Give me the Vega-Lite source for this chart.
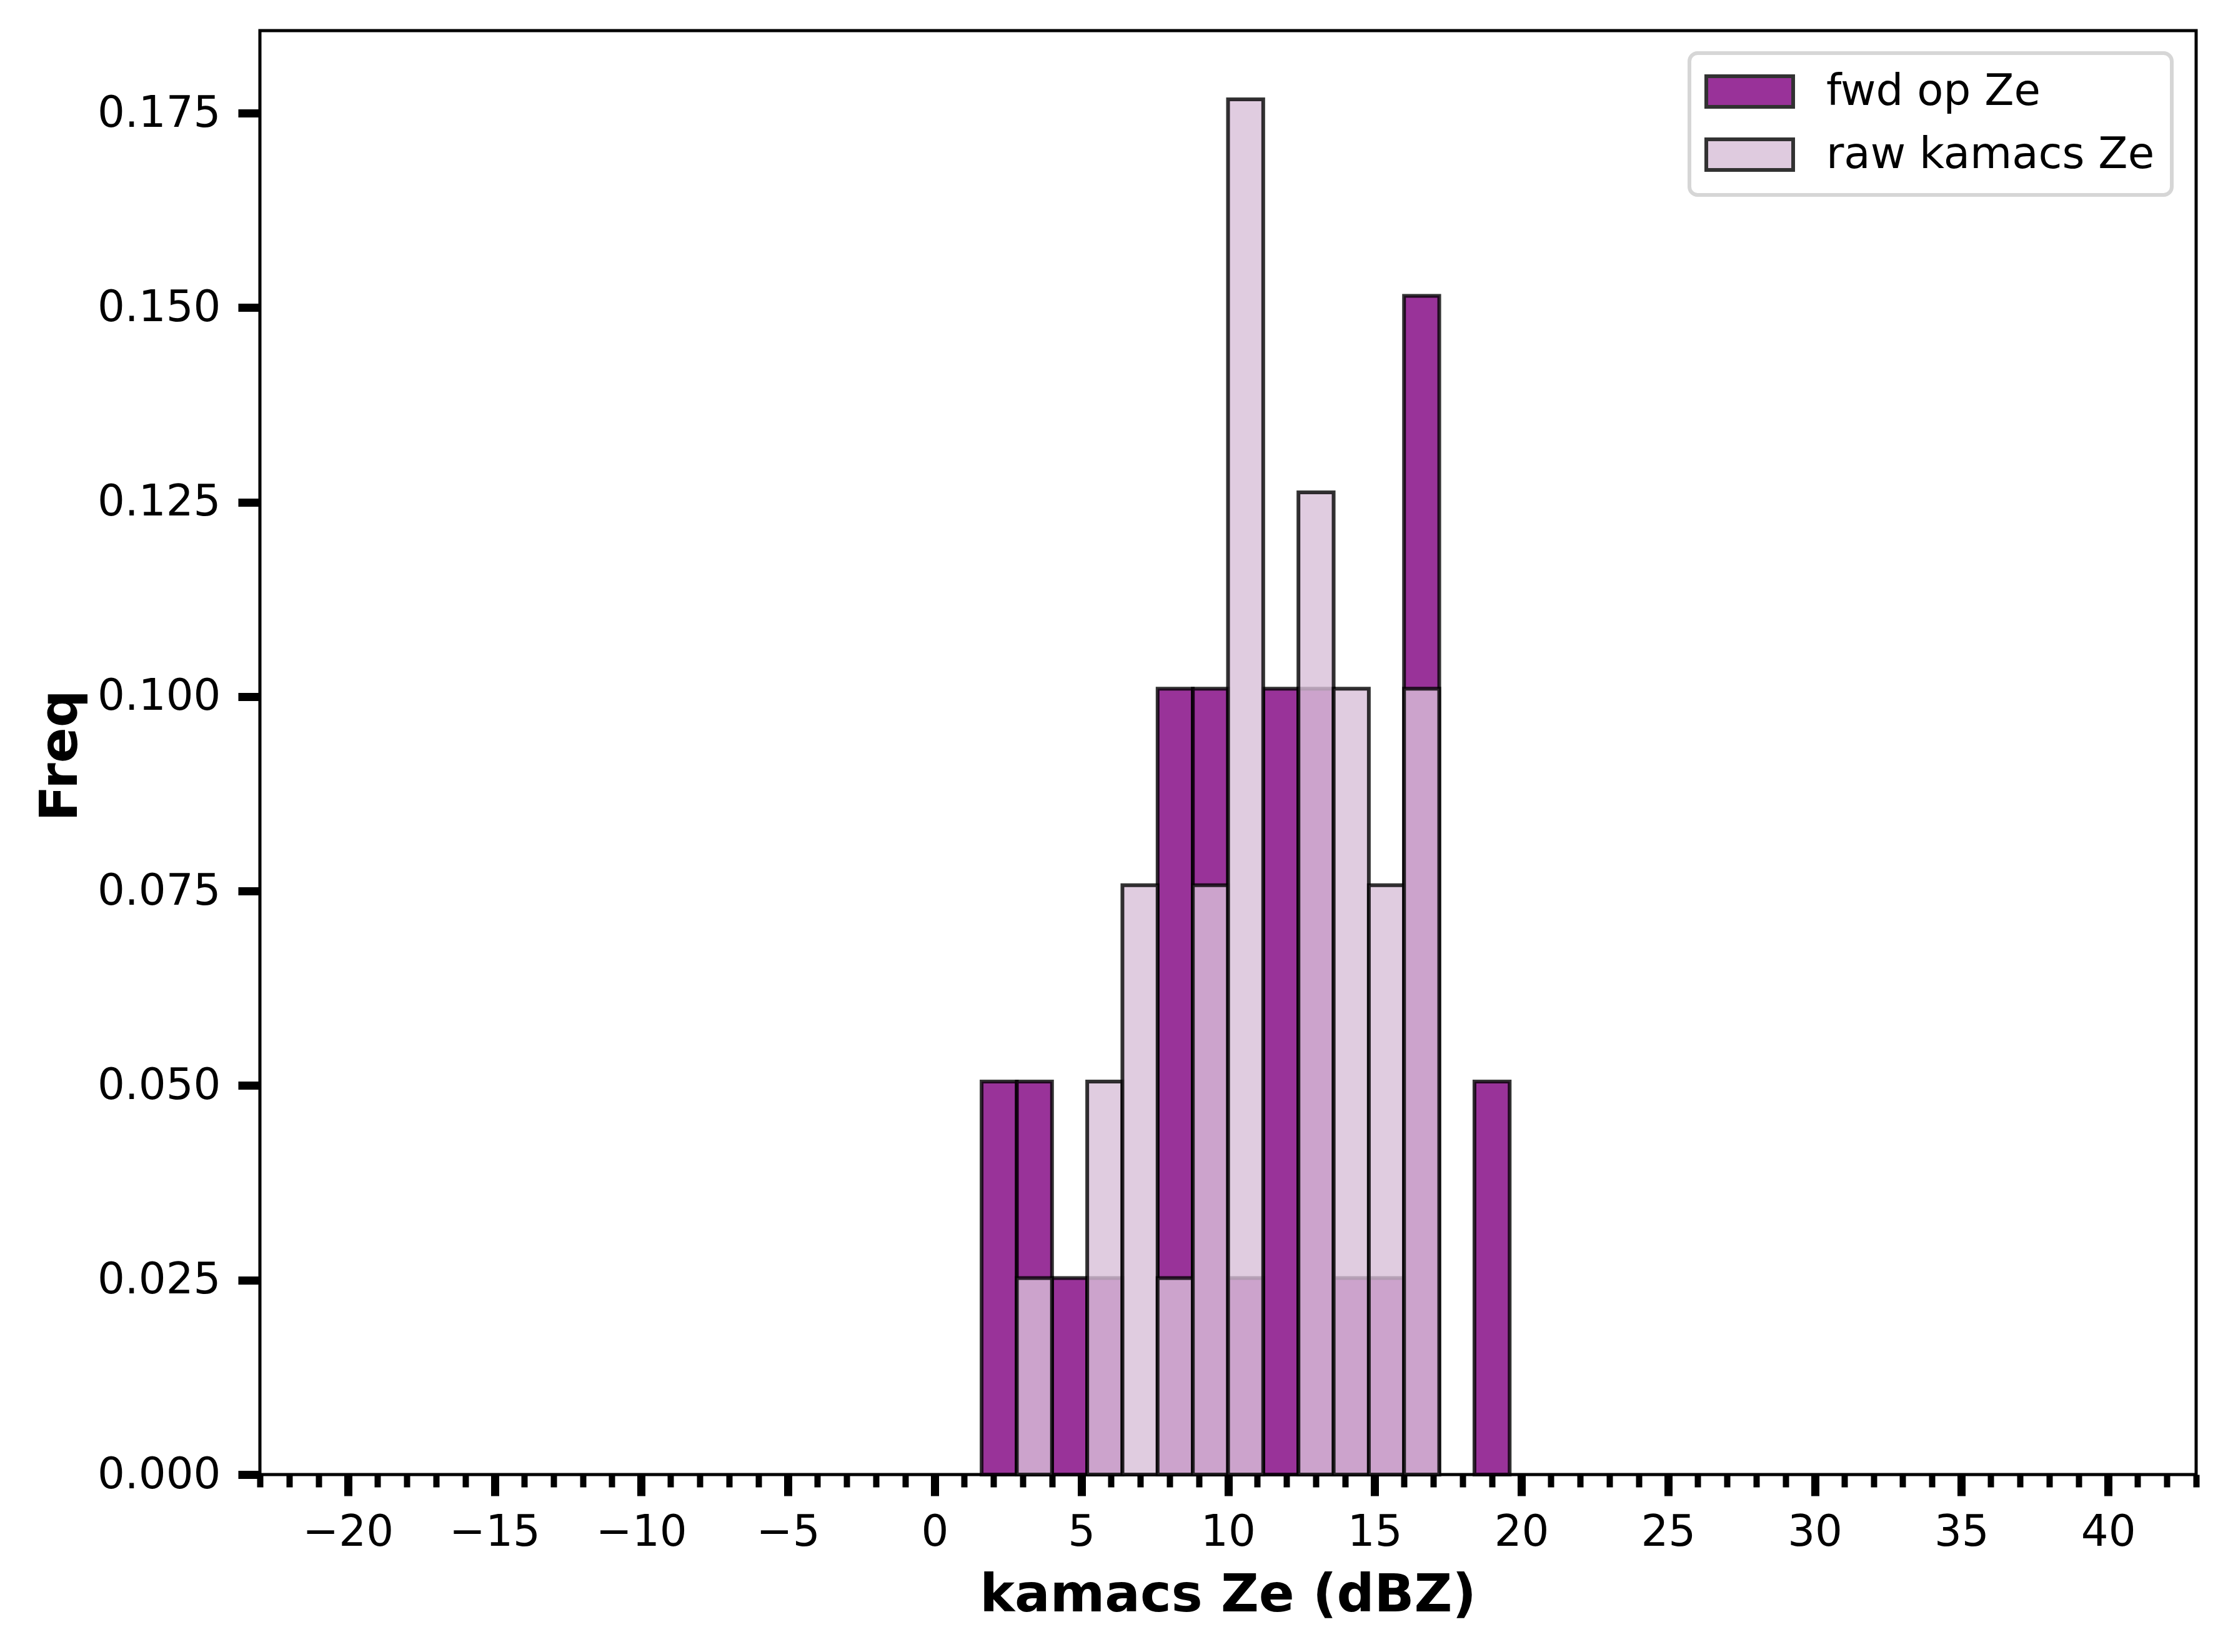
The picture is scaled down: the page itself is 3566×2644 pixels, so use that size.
{
  "$schema": "https://vega.github.io/schema/vega-lite/v6.json",
  "width": 3099,
  "height": 2311,
  "autosize": {"type": "none"},
  "padding": {"left": 416, "top": 49, "right": 51, "bottom": 284},
  "background": "white",
  "config": {
    "view": {"stroke": "black", "strokeWidth": 5, "fill": "white"},
    "font": "DejaVu Sans",
    "axis": {"grid": false, "domain": false, "tickColor": "black", "labelColor": "black", "titleColor": "black", "labelFont": "DejaVu Sans", "titleFont": "DejaVu Sans"}
  },
  "data": {
    "values": [
      {"series": "fwd op Ze", "bin_start": 1.6, "bin_end": 2.8, "freq": 0.05051},
      {"series": "fwd op Ze", "bin_start": 2.8, "bin_end": 4.0, "freq": 0.05051},
      {"series": "fwd op Ze", "bin_start": 4.0, "bin_end": 5.2, "freq": 0.02525},
      {"series": "fwd op Ze", "bin_start": 5.2, "bin_end": 6.4, "freq": 0.02525},
      {"series": "fwd op Ze", "bin_start": 7.6, "bin_end": 8.8, "freq": 0.10101},
      {"series": "fwd op Ze", "bin_start": 8.8, "bin_end": 10.0, "freq": 0.10101},
      {"series": "fwd op Ze", "bin_start": 10.0, "bin_end": 11.2, "freq": 0.02525},
      {"series": "fwd op Ze", "bin_start": 11.2, "bin_end": 12.4, "freq": 0.10101},
      {"series": "fwd op Ze", "bin_start": 12.4, "bin_end": 13.6, "freq": 0.10101},
      {"series": "fwd op Ze", "bin_start": 13.6, "bin_end": 14.8, "freq": 0.02525},
      {"series": "fwd op Ze", "bin_start": 14.8, "bin_end": 16.0, "freq": 0.02525},
      {"series": "fwd op Ze", "bin_start": 16.0, "bin_end": 17.2, "freq": 0.15152},
      {"series": "fwd op Ze", "bin_start": 18.4, "bin_end": 19.6, "freq": 0.05051},
      {"series": "raw kamacs Ze", "bin_start": 2.8, "bin_end": 4.0, "freq": 0.02525},
      {"series": "raw kamacs Ze", "bin_start": 5.2, "bin_end": 6.4, "freq": 0.05051},
      {"series": "raw kamacs Ze", "bin_start": 6.4, "bin_end": 7.6, "freq": 0.07576},
      {"series": "raw kamacs Ze", "bin_start": 7.6, "bin_end": 8.8, "freq": 0.02525},
      {"series": "raw kamacs Ze", "bin_start": 8.8, "bin_end": 10.0, "freq": 0.07576},
      {"series": "raw kamacs Ze", "bin_start": 10.0, "bin_end": 11.2, "freq": 0.17677},
      {"series": "raw kamacs Ze", "bin_start": 12.4, "bin_end": 13.6, "freq": 0.12626},
      {"series": "raw kamacs Ze", "bin_start": 13.6, "bin_end": 14.8, "freq": 0.10101},
      {"series": "raw kamacs Ze", "bin_start": 14.8, "bin_end": 16.0, "freq": 0.07576},
      {"series": "raw kamacs Ze", "bin_start": 16.0, "bin_end": 17.2, "freq": 0.10101}
    ]
  },
  "layer": [
    {
      "mark": {"type": "rect", "stroke": "black", "strokeWidth": 6, "strokeOpacity": 0.8, "fillOpacity": 0.8},
      "encoding": {
        "x": {
          "field": "bin_start",
          "type": "quantitative",
          "scale": {"domain": [-23, 43], "nice": false, "zero": false},
          "axis": {
            "orient": "bottom",
            "values": [-20, -15, -10, -5, 0, 5, 10, 15, 20, 25, 30, 35, 40],
            "format": "d",
            "tickSize": 34,
            "tickWidth": 13,
            "labelPadding": 24,
            "labelFontSize": 69,
            "labelFlush": false,
            "labelOverlap": false,
            "labelLimit": 0,
            "title": "kamacs Ze (dBZ)",
            "titleFontSize": 84,
            "titleFontWeight": "bold",
            "titleX": 1549,
            "titleY": 218,
            "titleBaseline": "alphabetic",
            "titleAlign": "center"
          }
        },
        "x2": {"field": "bin_end"},
        "y": {
          "field": "freq",
          "type": "quantitative",
          "scale": {"domain": [0, 0.18561], "nice": false},
          "axis": {
            "values": [0, 0.025, 0.05, 0.075, 0.1, 0.125, 0.15, 0.175],
            "format": ".3f",
            "tickSize": 35,
            "tickWidth": 13,
            "labelPadding": 28,
            "labelFontSize": 69,
            "labelFlush": false,
            "labelOverlap": false,
            "labelLimit": 0,
            "title": "Freq",
            "titleFontSize": 84,
            "titleFontWeight": "bold",
            "titleAngle": -90,
            "titleX": -294,
            "titleY": 1160,
            "titleBaseline": "alphabetic",
            "titleAlign": "center"
          }
        },
        "y2": {"datum": 0},
        "color": {
          "field": "series",
          "type": "nominal",
          "scale": {"domain": ["fwd op Ze", "raw kamacs Ze"], "range": ["purple", "thistle"]},
          "legend": {
            "title": null,
            "orient": "none",
            "legendX": 2288,
            "legendY": 36,
            "padding": 27,
            "rowPadding": 26,
            "fillColor": "white",
            "strokeColor": "#d6d6d6",
            "cornerRadius": 13,
            "symbolType": "M-2.317,-0.817L2.317,-0.817L2.317,0.817L-2.317,0.817Z",
            "symbolSize": 3600,
            "symbolStrokeColor": "black",
            "symbolStrokeWidth": 6,
            "symbolOpacity": 0.8,
            "symbolOffset": 35,
            "labelOffset": 88,
            "labelFont": "DejaVu Sans",
            "labelFontSize": 69,
            "labelColor": "black",
            "labelLimit": 0,
            "encode": {"legend": {"update": {"strokeWidth": {"value": 6}}}}
          }
        }
      }
    },
    {
      "mark": {"type": "point", "opacity": 0},
      "encoding": {
        "x": {
          "field": "bin_start",
          "type": "quantitative",
          "scale": {"domain": [-23, 43], "nice": false, "zero": false},
          "axis": {
            "orient": "bottom",
            "values": [-23, -22, -21, -20, -19, -18, -17, -16, -15, -14, -13, -12, -11, -10, -9, -8, -7, -6, -5, -4, -3, -2, -1, 0, 1, 2, 3, 4, 5, 6, 7, 8, 9, 10, 11, 12, 13, 14, 15, 16, 17, 18, 19, 20, 21, 22, 23, 24, 25, 26, 27, 28, 29, 30, 31, 32, 33, 34, 35, 36, 37, 38, 39, 40, 41, 42, 43],
            "tickSize": 20,
            "tickWidth": 10,
            "labels": false,
            "title": null
          }
        }
      }
    }
  ],
  "resolve": {"axis": {"x": "independent"}}
}
